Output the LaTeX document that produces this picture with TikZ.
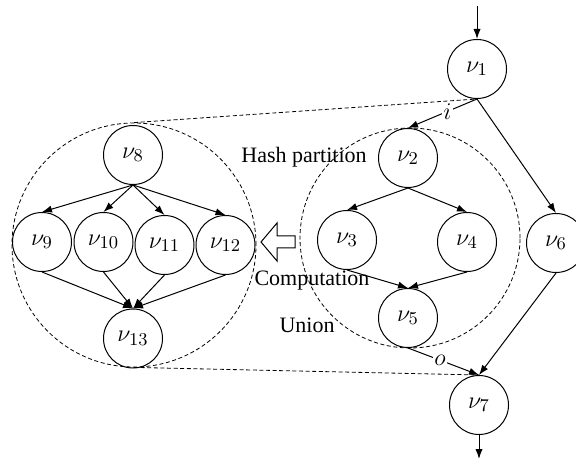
\documentclass[tikz,border=0pt]{standalone}
\usepackage{fontspec}
\setmainfont{Liberation Serif}
\usetikzlibrary{arrows.meta}
\begin{document}
\begin{tikzpicture}[x=0.5pt,y=-0.5pt,
  vnode/.style={draw,circle,line width=0.5pt,minimum size=29.5pt,inner sep=0pt,font=\fontsize{13}{15}\selectfont},
  grp/.style={draw,circle,dash pattern=on 2pt off 1.3pt,line width=0.4pt,inner sep=0pt},
  conn/.style={line width=0.5pt,-{Latex[length=5pt,width=3.6pt]}},
  dconn/.style={line width=0.4pt,dash pattern=on 2pt off 1.3pt},
  lbl/.style={font=\fontsize{11}{13}\selectfont},
  elbl/.style={fill=white,inner sep=0.8pt,font=\fontsize{12}{14}\selectfont}]
\useasboundingbox (0,0) rectangle (576,458);
% group circles
\node[grp,minimum size=122pt] (C1) at (134,245) {};
\node[grp,minimum size=110pt] (C2) at (410,238) {};
% nodes
\node[vnode] (v1) at (477,69) {$\nu_1$};
\node[vnode] (v2) at (408,158) {$\nu_2$};
\node[vnode] (v3) at (347,240) {$\nu_3$};
\node[vnode] (v4) at (467,242) {$\nu_4$};
\node[vnode] (v5) at (408,318) {$\nu_5$};
\node[vnode] (v6) at (556,243) {$\nu_6$};
\node[vnode] (v7) at (479,405) {$\nu_7$};
\node[vnode] (v8) at (133,155) {$\nu_8$};
\node[vnode] (v9) at (42,242) {$\nu_9$};
\node[vnode] (v10) at (103.5,242) {$\nu_{10}$};
\node[vnode] (v11) at (164.5,245) {$\nu_{11}$};
\node[vnode] (v12) at (225.5,245) {$\nu_{12}$};
\node[vnode] (v13) at (133,338.5) {$\nu_{13}$};
% in/out
\coordinate (in) at (477,6);
\coordinate (out) at (479,459);
\draw[conn] (in) -- (v1.north);
\draw[conn] (v7.south) -- (out);
% labels
\node[lbl] (hp) at (304,157) {Hash partition};
\node[lbl] (comp) at (312,281) {Computation};
\node[lbl] (un) at (307,325) {Union};
% dashed zoom lines
\draw[dconn] (C1.north) -- (v1.south);
\draw[dconn] (C1.south) -- (v7.north);
% edges
\draw[conn] (v1.south) -- node[elbl,pos=0.43] {$i$} (v2.north);
\draw[conn] (v1.south) -- (v6.north);
\draw[conn] (v2.south) -- (v3.north);
\draw[conn] (v2.south) -- (v4.north);
\draw[conn] (v3.south) -- (v5.north);
\draw[conn] (v4.south) -- (v5.north);
\draw[conn] (v5.south) -- node[elbl,pos=0.45] {$o$} (v7.north);
\draw[conn] (v6.south) -- (v7.north);
\foreach \n in {v9,v10,v11,v12}{
  \draw[conn] (v8.south) -- (\n.north);
  \draw[conn] (\n.south) -- (v13.north);
}
% hollow arrow
\draw[line width=0.5pt,fill=white] (261,242) -- (277,223) -- (277,236) -- (295,236) -- (295,248) -- (277,248) -- (277,261) -- cycle;
\end{tikzpicture}
\end{document}
